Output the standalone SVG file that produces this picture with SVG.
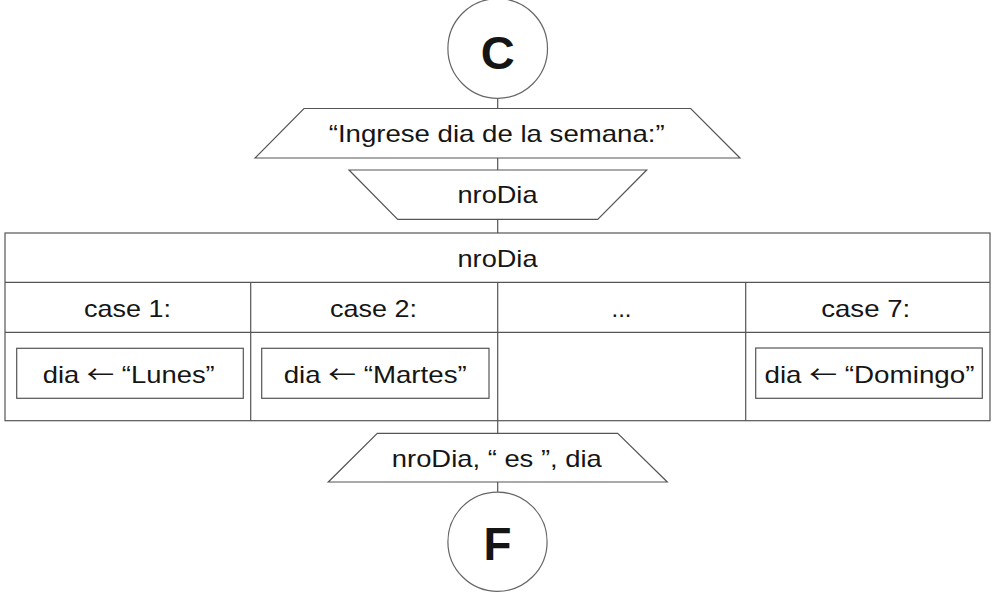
<svg xmlns="http://www.w3.org/2000/svg" width="1006" height="608" viewBox="0 0 1006 608">
<style>
.s{fill:#fff;stroke:#555;stroke-width:1.2}
.c{fill:#fff;stroke:#666;stroke-width:1.2}
.ln{stroke:#555;stroke-width:1.2;fill:none}
.t{font-family:"Liberation Sans",Arial,sans-serif;font-size:24px;fill:#151515;text-anchor:middle}
.b{font-family:"Liberation Sans",Arial,sans-serif;font-size:47px;font-weight:bold;fill:#151515;text-anchor:middle}
.ar{font-family:"Noto Sans CJK SC","DejaVu Sans",sans-serif;font-size:24px}
</style>
<rect width="1006" height="608" fill="#fff"/>
<g id="connectors">
<line class="ln" x1="497.7" y1="98" x2="497.7" y2="108.5"/>
<line class="ln" x1="497.7" y1="158" x2="497.7" y2="170"/>
<line class="ln" x1="497.7" y1="219.3" x2="497.7" y2="233"/>
<line class="ln" x1="497.7" y1="420.7" x2="497.7" y2="433.3"/>
<line class="ln" x1="497.7" y1="482" x2="497.7" y2="492.3"/>
</g>
<g id="start">
<circle class="c" cx="497.7" cy="48.5" r="49.8"/>
<text class="b" x="497.7" y="69" textLength="34" lengthAdjust="spacingAndGlyphs">C</text>
</g>
<g id="prompt">
<polygon class="s" points="304,108.5 690.7,108.5 740,158 255,158"/>
<text class="t" x="496.7" y="141.7" font-size="25" textLength="336" lengthAdjust="spacingAndGlyphs">“Ingrese dia de la semana:”</text>
</g>
<g id="read">
<polygon class="s" points="349,170 646.7,170 597.7,219.3 397.7,219.3"/>
<text class="t" x="497.5" y="203.3" textLength="80" lengthAdjust="spacingAndGlyphs">nroDia</text>
</g>
<g id="switch">
<rect class="s" x="5" y="233" width="985" height="187.7"/>
<line class="ln" x1="5" y1="282.3" x2="990" y2="282.3"/>
<line class="ln" x1="5" y1="332.3" x2="990" y2="332.3"/>
<line class="ln" x1="250.7" y1="282.3" x2="250.7" y2="420.7"/>
<line class="ln" x1="497.7" y1="282.3" x2="497.7" y2="420.7"/>
<line class="ln" x1="745.7" y1="282.3" x2="745.7" y2="420.7"/>
<text class="t" x="497.5" y="266.7" textLength="80" lengthAdjust="spacingAndGlyphs">nroDia</text>
<text class="t" x="127.5" y="316.5" textLength="87" lengthAdjust="spacingAndGlyphs">case 1:</text>
<text class="t" x="373.5" y="316.5" textLength="87" lengthAdjust="spacingAndGlyphs">case 2:</text>
<text class="t" x="621.5" y="316.5">...</text>
<text class="t" x="865.7" y="316.5" textLength="89" lengthAdjust="spacingAndGlyphs">case 7:</text>
</g>
<g id="case1">
<rect class="s" x="16.7" y="348.3" width="226.6" height="50"/>
<text class="t" x="128.7" y="382.7" textLength="172" lengthAdjust="spacingAndGlyphs">dia <tspan class="ar">←</tspan> “Lunes”</text>
</g>
<g id="case2">
<rect class="s" x="261.7" y="348.3" width="227.3" height="50"/>
<text class="t" x="375.2" y="382.7" textLength="183" lengthAdjust="spacingAndGlyphs">dia <tspan class="ar">←</tspan> “Martes”</text>
</g>
<g id="case7">
<rect class="s" x="755.7" y="348" width="226.6" height="50.3"/>
<text class="t" x="869.5" y="382.7" textLength="210" lengthAdjust="spacingAndGlyphs">dia <tspan class="ar">←</tspan> “Domingo”</text>
</g>
<g id="output">
<polygon class="s" points="377.3,433.3 617.7,433.3 667.3,482 328.3,482"/>
<text class="t" x="496.8" y="466.5" textLength="210" lengthAdjust="spacingAndGlyphs">nroDia, “ es ”, dia</text>
</g>
<g id="end">
<circle class="c" cx="497.5" cy="541.7" r="49.6"/>
<text class="b" x="497.5" y="560" textLength="28" lengthAdjust="spacingAndGlyphs">F</text>
</g>
</svg>
